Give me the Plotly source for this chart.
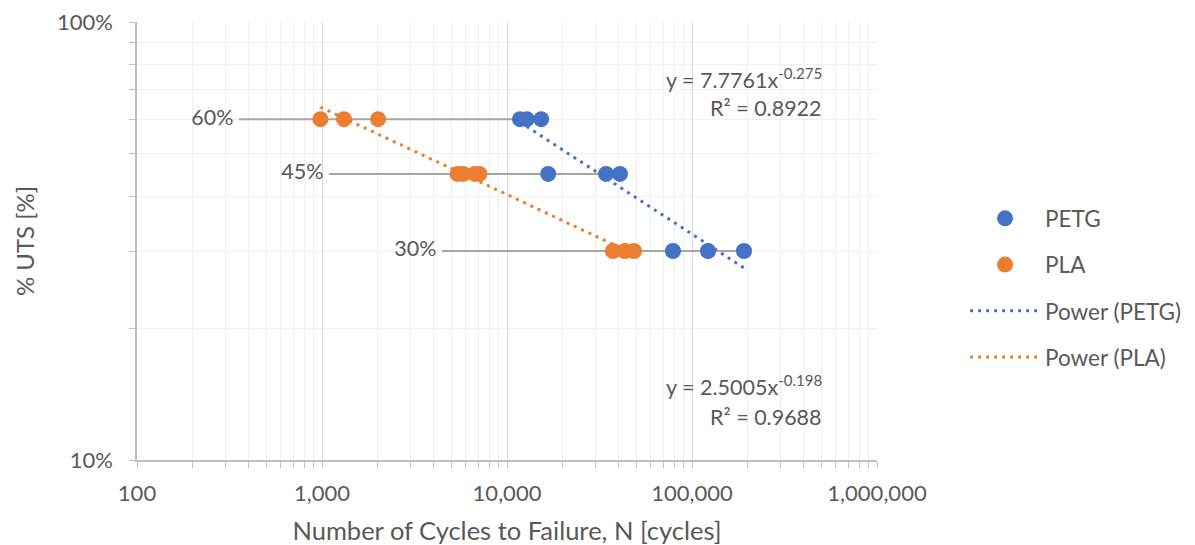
import plotly.graph_objects as go

# ---- data ----
petg_cycles = [11750, 12800, 15300, 16700, 34300, 40800, 78900, 122000, 191000]
petg_uts = [0.60, 0.60, 0.60, 0.45, 0.45, 0.45, 0.30, 0.30, 0.30]
pla_cycles = [980, 1315, 2010, 5400, 5800, 6700, 7100, 37400, 43400, 48600]
pla_uts = [0.60, 0.60, 0.60, 0.45, 0.45, 0.45, 0.45, 0.30, 0.30, 0.30]

level_labels = ["60%", "45%", "30%"]
level_values = [0.60, 0.45, 0.30]
level_start = [356, 1090, 4450]
level_end = [15300, 40800, 191000]

petg_fit = (7.7761, -0.275, 0.8922)
pla_fit = (2.5005, -0.198, 0.9688)

x_tickvals = [100, 1000, 10000, 100000, 1000000]
x_ticktext = ["100", "1,000", "10,000", "100,000", "1,000,000"]
y_tickvals = [0.1, 1.0]
y_ticktext = ["10%", "100%"]

BLUE = "#4472C4"
ORANGE = "#ED7D31"
TXT = "#595959"
FONT = "Lato"
FS = 21.5

fig = go.Figure()

# reference level lines with labels
for lab, v, s, e in zip(level_labels, level_values, level_start, level_end):
    fig.add_trace(go.Scatter(
        x=[s, e], y=[v, v], mode="lines+text",
        text=[lab + " ", ""], textposition="middle left",
        textfont=dict(family=FONT, size=FS, color=TXT),
        line=dict(color="#A6A6A6", width=2),
        showlegend=False, hoverinfo="skip", cliponaxis=False))

fig.add_trace(go.Scatter(
    x=petg_cycles, y=petg_uts, mode="markers", name="PETG",
    marker=dict(color=BLUE, size=16), legendgroup="a"))
fig.add_trace(go.Scatter(
    x=pla_cycles, y=pla_uts, mode="markers", name="PLA",
    marker=dict(color=ORANGE, size=16), legendgroup="b"))

def fit_line(a, b, xs):
    x0, x1 = min(xs), max(xs)
    return [x0, x1], [a * x0 ** b, a * x1 ** b]

fx, fy = fit_line(petg_fit[0], petg_fit[1], petg_cycles)
fig.add_trace(go.Scatter(x=fx, y=fy, mode="lines", name="Power (PETG)",
                         line=dict(color=BLUE, width=3, dash="3px,5px"), legendgroup="c"))
fx, fy = fit_line(pla_fit[0], pla_fit[1], pla_cycles)
fig.add_trace(go.Scatter(x=fx, y=fy, mode="lines", name="Power (PLA)",
                         line=dict(color=ORANGE, width=3, dash="3px,5px"), legendgroup="d"))

def eq_text(a, b):
    return f"y = {a:.4f}x<sup>{b}</sup>"

ann_font = dict(family=FONT, size=FS, color=TXT)
for txt, yy in [(eq_text(petg_fit[0], petg_fit[1]), 0.872),
                (f"R² = {petg_fit[2]}", 0.804),
                (eq_text(pla_fit[0], pla_fit[1]), 0.171),
                (f"R² = {pla_fit[2]}", 0.098)]:
    fig.add_annotation(x=0.928, y=yy, xref="paper", yref="paper",
                       xanchor="right", yanchor="middle",
                       text=txt, showarrow=False, font=ann_font)

fig.update_xaxes(type="log", range=[2, 6], tickvals=x_tickvals, ticktext=x_ticktext,
                 automargin=False, ticklabeloverflow="allow",
                 showgrid=True, gridcolor="#D9D9D9", gridwidth=1.3,
                 minor=dict(showgrid=True, gridcolor="#F0F0F0", ticks="outside",
                            ticklen=6, tickcolor="#BFBFBF", dtick="D1"),
                 showline=True, linecolor="#BFBFBF", linewidth=1.5,
                 ticks="outside", ticklen=6, tickcolor="#BFBFBF",
                 ticklabelstandoff=7,
                 zeroline=False,
                 tickfont=dict(family=FONT, size=22, color=TXT),
                 title=dict(text="Number of Cycles to Failure, N [cycles]",
                            font=dict(family=FONT, size=25.5, color=TXT), standoff=17))
fig.update_yaxes(type="log", range=[-1, 0], tickvals=y_tickvals, ticktext=y_ticktext,
                 automargin=False, ticklabeloverflow="allow",
                 showgrid=True, gridcolor="#D9D9D9", gridwidth=1.3,
                 minor=dict(showgrid=True, gridcolor="#F0F0F0", ticks="outside",
                            ticklen=6, tickcolor="#BFBFBF", dtick="D1"),
                 showline=True, linecolor="#BFBFBF", linewidth=1.5,
                 ticks="outside", ticklen=6, tickcolor="#BFBFBF",
                 ticklabelstandoff=12,
                 zeroline=False,
                 tickfont=dict(family=FONT, size=22, color=TXT),
                 title=dict(text="% UTS [%]",
                            font=dict(family=FONT, size=24, color=TXT), standoff=16))

# page body has an 8px offset; plot area should land at x 137..877, y 22..460
fig.update_layout(
    width=1195, height=545,
    margin=dict(l=129, r=326, t=14, b=93),
    paper_bgcolor="white", plot_bgcolor="white",
    legend=dict(x=1.119, y=0.60, xanchor="left", yanchor="top",
                tracegroupgap=14, traceorder="grouped", itemwidth=70,
                font=dict(family=FONT, size=22.5, color=TXT)),
)

fig.write_html("out.html")
